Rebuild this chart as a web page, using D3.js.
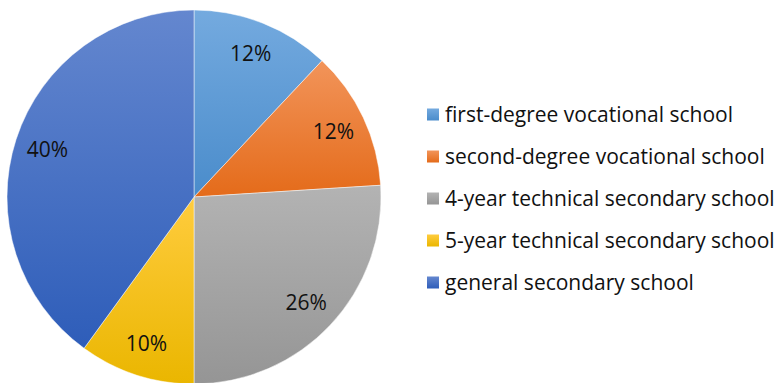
<!DOCTYPE html>
<html><head><meta charset="utf-8">
<script src="https://cdn.jsdelivr.net/npm/d3@7"></script>
<style>html,body{margin:0;padding:0;background:#fff;}svg{display:block;}</style>
</head><body>
<svg id="chart" width="776" height="383"></svg>
<script>
const categories = ["first-degree vocational school","second-degree vocational school","4-year technical secondary school","5-year technical secondary school","general secondary school"];
const values = [12, 12, 26, 10, 40];
const labels = ["12%","12%","26%","10%","40%"];
const colorsTop = ["#74AADF","#F2945A","#B3B3B3","#FFCC3E","#6487CF"];
const colorsBottom = ["#4A8CCB","#E46B1A","#959595","#EAB600","#2E5DB9"];

const svg = d3.select("#chart");
const cx = 194, cy = 197, R = 187;
const defs = svg.append("defs");
categories.forEach((c,i)=>{
  const g = defs.append("linearGradient").attr("id","g"+i).attr("x1",0).attr("y1",0).attr("x2",0).attr("y2",1);
  g.append("stop").attr("offset","0%").attr("stop-color",colorsTop[i]);
  g.append("stop").attr("offset","100%").attr("stop-color",colorsBottom[i]);
});
const pie = d3.pie().sort(null).value(d=>d)(values);
const arc = d3.arc().innerRadius(0).outerRadius(R);
const labelArc = d3.arc().innerRadius(154).outerRadius(154);
const g = svg.append("g").attr("transform",`translate(${cx},${cy})`);
g.selectAll("path").data(pie).join("path")
  .attr("d",arc)
  .attr("fill",(d,i)=>`url(#g${i})`)
  .attr("stroke","#fff").attr("stroke-opacity",0.6).attr("stroke-width",0.8);
g.selectAll("text").data(pie).join("text")
  .attr("transform",d=>`translate(${labelArc.centroid(d)})`)
  .attr("text-anchor","middle").attr("dy","0.36em")
  .attr("font-family","'Open Sans', sans-serif").attr("font-size",21)
  .attr("fill","#111")
  .text((d,i)=>labels[i]);

const leg = svg.append("g");
const rows = leg.selectAll("g").data(categories).join("g")
  .attr("transform",(d,i)=>`translate(427,${115 + i*42})`);
rows.append("rect").attr("x",0).attr("y",-6.5).attr("width",12).attr("height",12)
  .attr("fill",(d,i)=>`url(#g${i})`);
rows.append("text").attr("x",18).attr("dy","0.35em")
  .attr("font-family","'Open Sans', sans-serif").attr("font-size",21).attr("fill","#111")
  .text(d=>d);
</script>
</body></html>
